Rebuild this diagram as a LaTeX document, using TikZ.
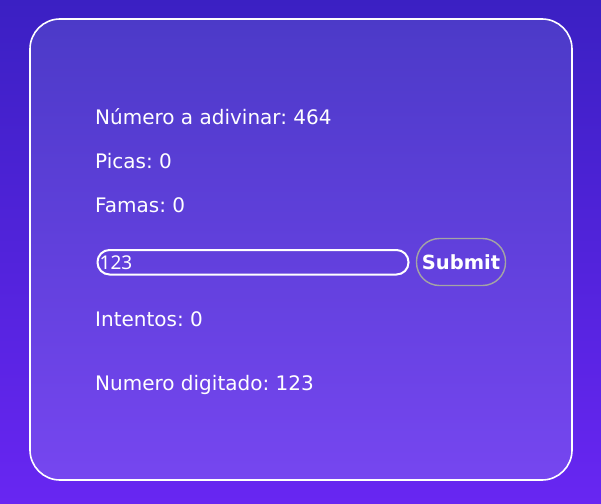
\documentclass[tikz,border=0pt]{standalone}
\usepackage{fontspec}
\setmainfont{DejaVu Sans}
\newfontfamily\entryfont{Noto Sans}
\usetikzlibrary{positioning,calc}
\frenchspacing
\definecolor{bgtop}{HTML}{3B20C3}
\definecolor{bgbot}{HTML}{6826F2}
\definecolor{cardtop}{HTML}{4C3AC8}
\definecolor{cardbot}{HTML}{7646F0}
\definecolor{rim}{HTML}{A4A4A4}

\begin{document}
\begin{tikzpicture}[x=1pt,y=-1pt,
    txt/.style={anchor=base west,text=white,inner sep=0pt,font=\fontsize{20}{24}\selectfont}]
    \useasboundingbox (0,0) rectangle (601,503);
    \shade[top color=bgtop,bottom color=bgbot] (0,0) rectangle (601,503);
    % card
    \shadedraw[top color=cardtop,bottom color=cardbot,draw=white,line width=1.6pt,rounded corners=30pt]
        (30,19) rectangle (572,480);
    \node[txt] (goal) at (95,124) {Número a adivinar: 464};
    \node[txt] (picas) at (95,168) {Picas: 0};
    \node[txt] (famas) at (95,212) {Famas: 0};
    % input and button
    \node[draw=white,line width=2pt,rounded corners=12pt,minimum width=311pt,minimum height=24.5pt,
        inner sep=0pt,anchor=north west] (entry) at (96.5,249) {};
    \node[anchor=base west,inner sep=0pt,text=white,font=\entryfont\fontsize{19}{22}\selectfont]
        (typed) at (99.5,269) {123};
    \node[draw=rim,line width=1.4pt,rounded corners=23pt,minimum width=89pt,minimum height=47pt,
        inner sep=0pt,text=white,font=\bfseries\fontsize{19.5}{23}\selectfont] (submit) at (461,262) {Submit};
    \node[txt] (tries) at (95,326) {Intentos: 0};
    \node[txt] (shown) at (95,390) {Numero digitado: 123};
\end{tikzpicture}
\end{document}
